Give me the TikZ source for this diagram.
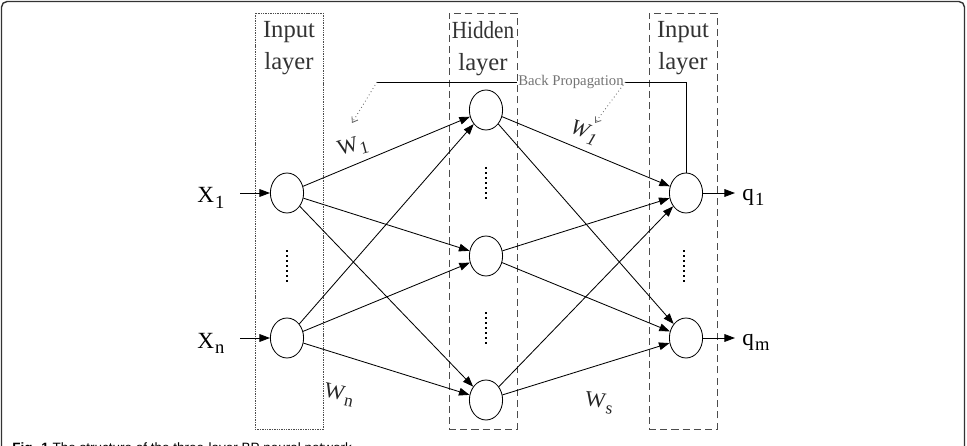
\documentclass[tikz,border=0pt]{standalone}
\usepackage{graphicx}
\usepackage{fontspec}
\setmainfont{Liberation Serif}
\newfontfamily\capfont{Liberation Sans}
\usetikzlibrary{arrows.meta,shapes.geometric,positioning}

\newcommand{\lowsub}[1]{\kern0.8pt\raisebox{-0.22em}{\scalebox{0.8}{#1}}}

\tikzset{
  neuron/.style={draw, ellipse, minimum width=0.83cm, minimum height=1cm, inner sep=0pt, line width=0.6pt},
  inbox/.style={draw=black!70, dash pattern=on 1pt off 0.7pt, minimum width=1.7cm, minimum height=10.4cm, line width=0.6pt},
  hidbox/.style={draw=black!70, dash pattern=on 5pt off 3pt, minimum width=1.7cm, minimum height=10.4cm, line width=0.6pt},
  layerlabel/.style={align=center, inner sep=0pt, text=black!80, font=\fontsize{17.5}{22.8}\selectfont},
  varlabel/.style={inner sep=0pt, font=\fontsize{16.5}{18}\selectfont},
  wlabel/.style={inner sep=0pt, text=black!85, font=\fontsize{15.5}{17}\selectfont},
  bptext/.style={inner sep=1pt, text=black!55, font=\fontsize{10.5}{12}\selectfont},
  link/.style={-{Triangle[length=7.5pt,width=5.5pt]}, line width=0.6pt},
  bpline/.style={line width=0.6pt},
  bparrow/.style={black!60, dotted, -{Straight Barb[length=3.5pt,width=5pt]}, line width=0.6pt},
  vdots/.style={line width=1.2pt, dash pattern=on 1.2pt off 2.4pt},
}

\begin{document}
\begin{tikzpicture}[x=0.025cm, y=-0.025cm]
  \useasboundingbox (0,0) rectangle (967,446);
  \draw[black!80, line width=1pt, rounded corners=4pt] (1.5,1.5) rectangle (964.5,480);

  \node[inbox] (inL) at (289,221) {};
  \node[hidbox] (hidL) at (483,221) {};
  \node[hidbox] (outL) at (683,221) {};
  \node[layerlabel, below=6.4pt of inL.north] (inT) {Input\\layer};
  \node[layerlabel, below=6.4pt of hidL.north] (hidT) {\scalebox{0.86}[1]{Hidden}\\layer};
  \node[layerlabel, below=6.4pt of outL.north] (outT) {Input\\layer};

  \node[neuron] (in1) at (287,193) {};
  \node[neuron] (inn) at (287,338) {};
  \node[neuron] (h1) at (486,110) {};
  \node[neuron] (h2) at (486,256) {};
  \node[neuron] (h3) at (486,400) {};
  \node[neuron] (o1) at (686,193) {};
  \node[neuron] (om) at (686,338) {};

  \draw[vdots] (287,250) -- (287,283);
  \draw[vdots] (486,167) -- (486,200);
  \draw[vdots] (486,312) -- (486,345);
  \draw[vdots] (684,250) -- (684,283);

  \foreach \s in {in1,inn}
    \foreach \t in {h1,h2,h3}
      \draw[link] (\s) -- (\t);
  \foreach \s in {h1,h2,h3}
    \foreach \t in {o1,om}
      \draw[link] (\s) -- (\t);

  \node[varlabel, anchor=base west] (x1) at (197,203) {X\lowsub{1}};
  \node[varlabel, anchor=base west] (xn) at (197,348) {X\lowsub{n}};
  \node[varlabel, anchor=base west] (q1) at (742,200) {q\lowsub{1}};
  \node[varlabel, anchor=base west] (qm) at (742,345) {q\lowsub{m}};
  \draw[link, shorten <=11pt] (x1.east |- in1) -- (in1);
  \draw[link, shorten <=11pt] (xn.east |- inn) -- (inn);
  \draw[link, shorten >=5pt] (o1) -- (q1.west |- o1);
  \draw[link, shorten >=5pt] (om) -- (qm.west |- om);

  \node[wlabel, rotate=15] (w1) at (353,147) {W\lowsub{1}};
  \node[wlabel, rotate=-12] (wn) at (339,395) {W\lowsub{n}};
  \node[wlabel, rotate=-20] (wl) at (584,133) {\textit{W\lowsub{1}}};
  \node[wlabel, rotate=-8] (ws) at (599,403) {W\lowsub{s}};

  \node[bptext] (bp) at (571,82) {Back Propagation};
  \coordinate (bpL) at (377,82);
  \coordinate (bpT1) at (352,123);
  \coordinate (bpT2) at (595,123);
  \draw[bpline] (o1.north) |- (bp.east);
  \draw[bpline] (bp.west) -- (bpL);
  \draw[bparrow] (bpL) -- (bpT1);
  \draw[bparrow] (bp.east) -- (bpT2);

  \node[anchor=base west, inner sep=0pt, font=\capfont\fontsize{9.6}{11}\selectfont] (cap) at (12,452)
    {\textbf{Fig. 1} The structure of the three-layer BP neural network};
\end{tikzpicture}
\end{document}
